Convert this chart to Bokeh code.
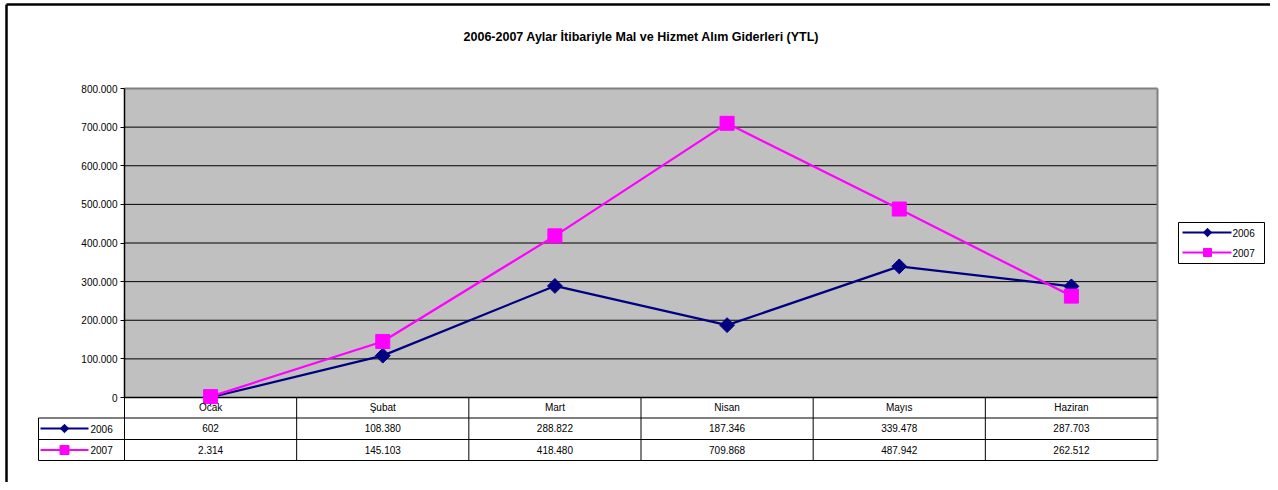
import numpy as np
from bokeh.plotting import figure
from bokeh.models import Range1d, FixedTicker
from bokeh.core.properties import value
from bokeh.embed import file_html
from bokeh.resources import INLINE

# ---------------- data ----------------
title_text = "2006-2007 Aylar İtibariyle Mal ve Hizmet Alım Giderleri (YTL)"
months = ["Ocak", "Şubat", "Mart", "Nisan", "Mayıs", "Haziran"]
series_names = ["2006", "2007"]
values_2006 = [602, 108380, 288822, 187346, 339478, 287703]
values_2007 = [2314, 145103, 418480, 709868, 487942, 262512]
y_ticks = [0, 100000, 200000, 300000, 400000, 500000, 600000, 700000, 800000]

# ---------------- layout (picture pixels) ----------------
FIG_X0, FIG_Y0 = 0, 0
W, H = 1270, 482
PA_L, PA_R, PA_T, PA_B = 124, 1157, 88, 397      # plot area
ROWS = [397, 417.5, 439, 460]                       # table row boundaries
KEY_L = 38
YMAX = 800000
CAT_W = (PA_R - PA_L) / len(months)
Y_PX = (PA_B - PA_T) / YMAX

def X(px):
    return (px - PA_L) / CAT_W

def Y(py):
    return (PA_B - py) / Y_PX

FONT = value("Liberation Sans")
NAVY = "#000080"
MAGENTA = "#FF00FF"

def fmt(v):
    return f"{v:,}".replace(",", ".")

p = figure(width=W, height=H, output_backend="svg", toolbar_location=None,
           x_range=Range1d(X(FIG_X0), X(FIG_X0 + W)),
           y_range=Range1d(Y(FIG_Y0 + H), Y(FIG_Y0)),
           x_axis_location=None, min_border=0)
p.outline_line_color = None
p.background_fill_color = "white"
p.border_fill_color = "white"
p.xgrid.visible = False
p.ygrid.visible = False

# y axis at x = 0 (left edge of plot area)
ya = p.yaxis[0]
ya.fixed_location = 0
ya.bounds = (0, YMAX)
ya.ticker = FixedTicker(ticks=y_ticks)
ya.major_label_overrides = {t: fmt(t) for t in y_ticks}
ya.major_label_text_font = "Liberation Sans"
ya.major_label_text_font_size = "10px"
ya.major_label_text_color = "black"
ya.major_label_standoff = 3
ya.major_tick_out = 4
ya.major_tick_in = 0
ya.minor_tick_out = 0
ya.minor_tick_in = 0
ya.axis_line_color = "black"
ya.axis_line_width = 1.5
ya.major_tick_line_color = "black"

ncat = len(months)
xc = [i + 0.5 for i in range(ncat)]

# outer chart border (top & left)
p.segment(x0=[X(6), X(6)], y0=[Y(4), Y(4)],
          x1=[X(FIG_X0 + W), X(6)], y1=[Y(4), Y(FIG_Y0 + H)],
          line_color="black", line_width=2.5)

# plot area
p.quad(left=0, right=ncat, bottom=0, top=YMAX, fill_color="#C0C0C0", line_color=None)
grid_vals = y_ticks[1:-1]
p.segment(x0=[0] * len(grid_vals), x1=[ncat] * len(grid_vals), y0=grid_vals, y1=grid_vals,
          line_color="black", line_width=1)
p.segment(x0=[0, ncat], y0=[YMAX, YMAX], x1=[ncat, ncat], y1=[YMAX, Y(ROWS[-1])],
          line_color="#808080", line_width=2)

# table lines
hx0 = [X(KEY_L)] * 3
p.segment(x0=hx0, x1=[ncat] * 3, y0=[Y(r) for r in ROWS[1:]], y1=[Y(r) for r in ROWS[1:]],
          line_color="black", line_width=1)
p.segment(x0=list(range(ncat)), x1=list(range(ncat)), y0=[0] * ncat, y1=[Y(ROWS[-1])] * ncat,
          line_color="black", line_width=1)
p.segment(x0=[X(KEY_L)], x1=[X(KEY_L)], y0=[Y(ROWS[1])], y1=[Y(ROWS[-1])],
          line_color="black", line_width=1)
# x axis line
p.segment(x0=[0], x1=[ncat], y0=[0], y1=[0], line_color="black", line_width=1.5)

# series
p.line(xc, values_2006, line_color=NAVY, line_width=2.2)
p.scatter(xc, values_2006, marker="square", angle=np.pi / 4, size=10.5,
          fill_color=NAVY, line_color=NAVY)
p.line(xc, values_2007, line_color=MAGENTA, line_width=2.2)
p.scatter(xc, values_2007, marker="square", size=14, fill_color=MAGENTA, line_color=MAGENTA)

# table texts
txt = dict(text_font=FONT, text_font_size="10px", text_color="black",
           text_align="center", text_baseline="middle")
p.text(x=xc, y=[Y(406.5)] * ncat, text=months, **txt)
p.text(x=xc, y=[Y(427.5)] * ncat, text=[fmt(v) for v in values_2006], **txt)
p.text(x=xc, y=[Y(449)] * ncat, text=[fmt(v) for v in values_2007], **txt)

# table key column
key_rows = [Y(428), Y(449.5)]
colors = [NAVY, MAGENTA]
for yy, c, nm in zip(key_rows, colors, series_names):
    p.segment(x0=[X(40)], x1=[X(88)], y0=[yy], y1=[yy], line_color=c, line_width=2.2)
    p.text(x=[X(90)], y=[yy], text=[nm], text_font=FONT, text_font_size="10px",
           text_color="black", text_align="left", text_baseline="middle")
p.scatter([X(64)], [key_rows[0]], marker="square", angle=np.pi / 4, size=6,
          fill_color=NAVY, line_color=NAVY)
p.scatter([X(64)], [key_rows[1]], marker="square", size=9,
          fill_color=MAGENTA, line_color=MAGENTA)

# legend box
p.quad(left=X(1178), right=X(1264), top=Y(222), bottom=Y(263),
       fill_color="white", line_color="black", line_width=1)
leg_rows = [Y(232), Y(252)]
for yy, c, nm in zip(leg_rows, colors, series_names):
    p.segment(x0=[X(1182)], x1=[X(1231)], y0=[yy], y1=[yy], line_color=c, line_width=2.2)
    p.text(x=[X(1232)], y=[yy], text=[nm], text_font=FONT, text_font_size="10px",
           text_color="black", text_align="left", text_baseline="middle")
p.scatter([X(1207)], [leg_rows[0]], marker="square", angle=np.pi / 4, size=6,
          fill_color=NAVY, line_color=NAVY)
p.scatter([X(1207)], [leg_rows[1]], marker="square", size=8,
          fill_color=MAGENTA, line_color=MAGENTA)

# title
p.text(x=[X(641)], y=[Y(36)], text=[title_text], text_font=FONT, text_font_size="12.5px",
       text_font_style="bold", text_color="black", text_align="center", text_baseline="middle")

open("out.html", "w").write(file_html(p, INLINE))
